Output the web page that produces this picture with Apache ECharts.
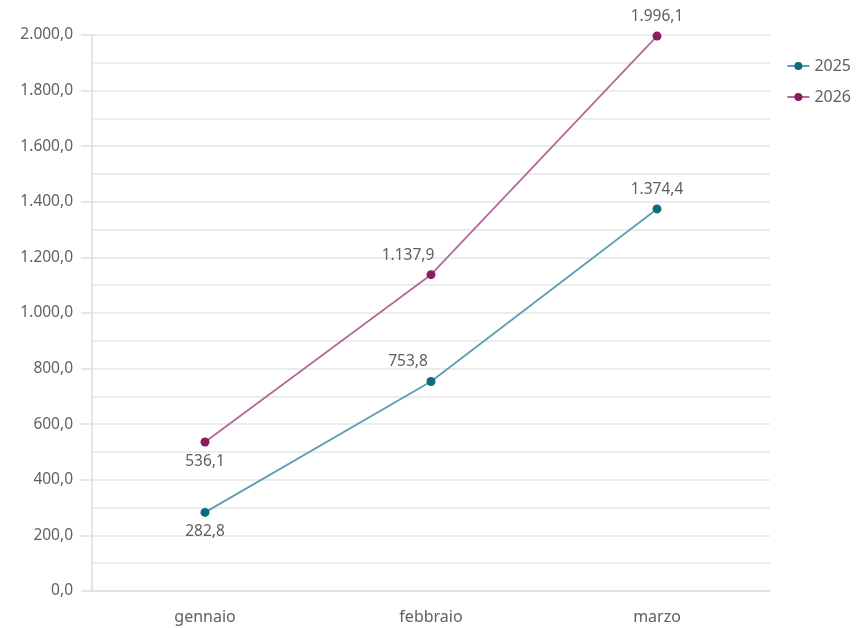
<!DOCTYPE html>
<html>
<head>
<meta charset="utf-8">
<script src="https://cdn.jsdelivr.net/npm/echarts@6/dist/echarts.min.js"></script>
<style>html,body{margin:0;padding:0;background:#fff}#c{width:862px;height:628px}</style>
</head>
<body>
<div id="c"></div>
<script>
const categories = ['gennaio', 'febbraio', 'marzo'];
const seriesNames = ['2025', '2026'];
const values2025 = [282.8, 753.8, 1374.4];
const values2026 = [536.1, 1137.9, 1996.1];

function fmt(v) {
  const parts = Number(v).toFixed(1).split('.');
  parts[0] = parts[0].replace(/\B(?=(\d{3})+(?!\d))/g, '.');
  return parts[0] + ',' + parts[1];
}
const font = '"Source Sans Pro","Noto Sans",sans-serif';
const labelColor = '#606060';

function makeLabels(vals, positions) {
  return vals.map((v, i) => ({
    value: v,
    label: positions[i]
  }));
}

const chart = echarts.init(document.getElementById('c'));
chart.setOption({
  animation: false,
  textStyle: { fontFamily: font },
  legend: {
    orient: 'vertical',
    right: 6,
    top: 53,
    itemGap: 15,
    itemWidth: 22,
    itemHeight: 10,
    textStyle: { fontSize: 16, color: labelColor, fontFamily: font },
    data: seriesNames
  },
  grid: { left: 92, right: 92, top: 35, bottom: 37 },
  xAxis: {
    type: 'category',
    data: categories,
    boundaryGap: true,
    axisLine: { lineStyle: { color: '#ddd', width: 1.5 } },
    axisTick: { show: false },
    axisLabel: { color: labelColor, fontSize: 16, margin: 18, fontFamily: font }
  },
  yAxis: {
    type: 'value',
    min: 0,
    max: 2000,
    interval: 200,
    axisLine: { show: true, lineStyle: { color: '#ddd', width: 1.5 } },
    axisTick: { show: true, length: 11, lineStyle: { color: '#ddd', width: 1.5 } },
    axisLabel: { color: labelColor, fontSize: 15.5, margin: 19, fontFamily: font, formatter: fmt },
    splitLine: { lineStyle: { color: '#e6e6e6', width: 1.5 } },
    minorTick: { show: false, splitNumber: 2 },
    minorSplitLine: { show: true, lineStyle: { color: '#e6e6e6', width: 1.5 } }
  },
  series: [
    {
      name: '2025',
      type: 'line',
      data: makeLabels(values2025, [
        { position: 'bottom', distance: 7 },
        { position: 'top', offset: [-23, 0], distance: 7 },
        { position: 'top', distance: 7 }
      ]),
      color: '#0d6b80',
      symbol: 'circle',
      symbolSize: 9,
      lineStyle: { color: '#5c9fb1', width: 1.8 },
      itemStyle: { color: '#0d6b80' },
      label: { show: true, color: labelColor, fontSize: 15.5, fontFamily: font, formatter: p => fmt(p.value) }
    },
    {
      name: '2026',
      type: 'line',
      data: makeLabels(values2026, [
        { position: 'bottom', distance: 7 },
        { position: 'top', offset: [-23, 0], distance: 7 },
        { position: 'top', distance: 7 }
      ]),
      color: '#8c1d5c',
      symbol: 'circle',
      symbolSize: 9,
      lineStyle: { color: '#b46a98', width: 1.8 },
      itemStyle: { color: '#8c1d5c' },
      label: { show: true, color: labelColor, fontSize: 15.5, fontFamily: font, formatter: p => fmt(p.value) }
    }
  ]
});
</script>
</body>
</html>
